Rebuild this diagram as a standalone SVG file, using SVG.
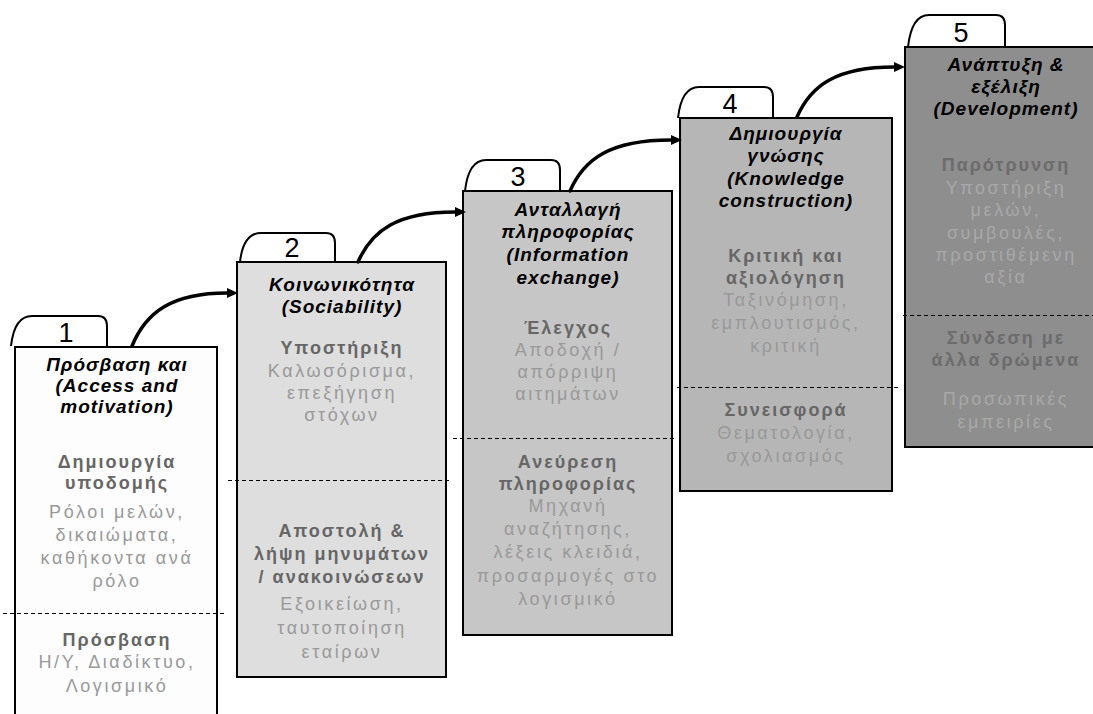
<svg xmlns="http://www.w3.org/2000/svg" width="1093" height="714" viewBox="0 0 1093 714">
  <style>
    .box { stroke: #000; stroke-width: 2; }
    .tab { fill: none; stroke: #000; stroke-width: 2; stroke-linejoin: round; }
    .num { font-family: "Liberation Sans", Arial, sans-serif; font-size: 27px; fill: #000; text-anchor: middle; }
    .sep { stroke: #000; stroke-width: 1; stroke-dasharray: 4 3; }
    text { font-family: "Liberation Sans", Arial, sans-serif; text-anchor: middle; }
    .title { font-size: 19px; font-weight: bold; font-style: italic; fill: #000; letter-spacing: 1px; }
    .head { font-size: 18px; font-weight: bold; fill: #666; letter-spacing: 2px; }
    .body { font-size: 18px; fill: #999; letter-spacing: 2.6px; }
    .head5 { font-size: 18px; font-weight: bold; fill: #6c6c6c; letter-spacing: 2px; }
    .body5 { font-size: 18px; fill: #a8a8a8; letter-spacing: 2.6px; }
    .arrow { fill: none; stroke: #000; stroke-width: 3.5; stroke-linecap: round; }
  </style>
  <defs>
    <marker id="head" markerUnits="userSpaceOnUse" markerWidth="12" markerHeight="12" refX="0" refY="5" orient="auto">
      <path d="M0,0 L11,5 L0,10 z" fill="#000"/>
    </marker>
  </defs>

  <rect width="1093" height="714" fill="#fff"/>

  <!-- Stage 1 -->
  <g id="step1">
    <path class="tab" d="M11,346 C13,328 19,316 32,316 L98,316 Q107,316 107,326 L107,347"/>
    <text class="num" x="66" y="342">1</text>
    <rect class="box" x="15" y="347" width="202" height="380" fill="#fdfdfd"/>
    <line class="sep" x1="3" y1="613.5" x2="226" y2="613.5"/>
    <text class="title" x="117" y="371">Πρόσβαση και</text>
    <text class="title" x="117" y="392">(Access and</text>
    <text class="title" x="117" y="413">motivation)</text>
    <text class="head" x="117" y="468">Δημιουργία</text>
    <text class="head" x="117" y="489">υποδομής</text>
    <text class="body" x="117" y="518">Ρόλοι μελών,</text>
    <text class="body" x="117" y="541">δικαιώματα,</text>
    <text class="body" x="117" y="564">καθήκοντα ανά</text>
    <text class="body" x="117" y="587">ρόλο</text>
    <text class="head" x="117" y="646">Πρόσβαση</text>
    <text class="body" x="117" y="668">Η/Υ, Διαδίκτυο,</text>
    <text class="body" x="117" y="692">Λογισμικό</text>
  </g>

  <!-- Stage 2 -->
  <g id="step2">
    <path class="tab" d="M240,262 C242,244 248,233 261,233 L326,233 Q335,233 335,243 L335,262"/>
    <text class="num" x="292" y="257">2</text>
    <rect class="box" x="237" y="262" width="209" height="415" fill="#dedede"/>
    <line class="sep" x1="228" y1="480.5" x2="451" y2="480.5"/>
    <text class="title" x="342" y="291">Κοινωνικότητα</text>
    <text class="title" x="342" y="313">(Sociability)</text>
    <text class="head" x="342" y="354">Υποστήριξη</text>
    <text class="body" x="342" y="377">Καλωσόρισμα,</text>
    <text class="body" x="342" y="399">επεξήγηση</text>
    <text class="body" x="342" y="421">στόχων</text>
    <text class="head" x="342" y="537">Αποστολή &amp;</text>
    <text class="head" x="342" y="560">λήψη μηνυμάτων</text>
    <text class="head" x="342" y="583">/ ανακοινώσεων</text>
    <text class="body" x="342" y="610">Εξοικείωση,</text>
    <text class="body" x="342" y="634">ταυτοποίηση</text>
    <text class="body" x="342" y="658">εταίρων</text>
  </g>

  <!-- Stage 3 -->
  <g id="step3">
    <path class="tab" d="M465,191 C467,173 473,160 486,160 L551,160 Q560,160 560,170 L560,191"/>
    <text class="num" x="518" y="186">3</text>
    <rect class="box" x="463" y="191" width="209" height="444" fill="#c6c6c6"/>
    <line class="sep" x1="453" y1="438.5" x2="676" y2="438.5"/>
    <text class="title" x="568" y="216">Ανταλλαγή</text>
    <text class="title" x="568" y="238">πληροφορίας</text>
    <text class="title" x="568" y="261">(Information</text>
    <text class="title" x="568" y="284">exchange)</text>
    <text class="head" x="568" y="334">Έλεγχος</text>
    <text class="body" x="568" y="356">Αποδοχή /</text>
    <text class="body" x="568" y="378">απόρριψη</text>
    <text class="body" x="568" y="400">αιτημάτων</text>
    <text class="head" x="568" y="468">Ανεύρεση</text>
    <text class="head" x="568" y="490">πληροφορίας</text>
    <text class="body" x="568" y="512">Μηχανή</text>
    <text class="body" x="568" y="535">αναζήτησης,</text>
    <text class="body" x="568" y="558">λέξεις κλειδιά,</text>
    <text class="body" x="568" y="582">προσαρμογές στο</text>
    <text class="body" x="568" y="605">λογισμικό</text>
  </g>

  <!-- Stage 4 -->
  <g id="step4">
    <path class="tab" d="M678,118 C680,100 686,87 699,87 L764,87 Q773,87 773,97 L773,118"/>
    <text class="num" x="730" y="113">4</text>
    <rect class="box" x="680" y="118" width="212" height="373" fill="#b6b6b6"/>
    <line class="sep" x1="677" y1="387.5" x2="900" y2="387.5"/>
    <text class="title" x="786" y="140">Δημιουργία</text>
    <text class="title" x="786" y="162">γνώσης</text>
    <text class="title" x="786" y="185">(Knowledge</text>
    <text class="title" x="786" y="207">construction)</text>
    <text class="head" x="786" y="262">Κριτική και</text>
    <text class="head" x="786" y="284">αξιολόγηση</text>
    <text class="body" x="786" y="306">Ταξινόμηση,</text>
    <text class="body" x="786" y="329">εμπλουτισμός,</text>
    <text class="body" x="786" y="352">κριτική</text>
    <text class="head" x="786" y="416">Συνεισφορά</text>
    <text class="body" x="786" y="439">Θεματολογία,</text>
    <text class="body" x="786" y="462">σχολιασμός</text>
  </g>

  <!-- Stage 5 -->
  <g id="step5">
    <path class="tab" d="M908,47 C910,29 916,15 929,15 L996,15 Q1005,15 1005,25 L1005,47"/>
    <text class="num" x="961" y="42">5</text>
    <rect class="box" x="905" y="47" width="210" height="400" fill="#8e8e8e"/>
    <line class="sep" x1="903" y1="315.5" x2="1093" y2="315.5"/>
    <text class="title" x="1006" y="71">Ανάπτυξη &amp;</text>
    <text class="title" x="1006" y="93">εξέλιξη</text>
    <text class="title" x="1006" y="115">(Development)</text>
    <text class="head5" x="1006" y="171">Παρότρυνση</text>
    <text class="body5" x="1006" y="194">Υποστήριξη</text>
    <text class="body5" x="1006" y="216">μελών,</text>
    <text class="body5" x="1006" y="239">συμβουλές,</text>
    <text class="body5" x="1006" y="261">προστιθέμενη</text>
    <text class="body5" x="1006" y="283">αξία</text>
    <text class="head5" x="1006" y="344">Σύνδεση με</text>
    <text class="head5" x="1006" y="366">άλλα δρώμενα</text>
    <text class="body5" x="1006" y="405">Προσωπικές</text>
    <text class="body5" x="1006" y="428">εμπειρίες</text>
  </g>

  <!-- Stage-to-stage arrows -->
  <g id="connectors">
    <path class="arrow" marker-end="url(#head)" d="M132,346 C146,312 172,293 227,293"/>
    <path class="arrow" marker-end="url(#head)" d="M358,262 C372,230 398,212 455,212"/>
    <path class="arrow" marker-end="url(#head)" d="M570,191 C584,159 610,140 671,140"/>
    <path class="arrow" marker-end="url(#head)" d="M797,117 C811,85 837,67 894,67"/>
  </g>
</svg>
